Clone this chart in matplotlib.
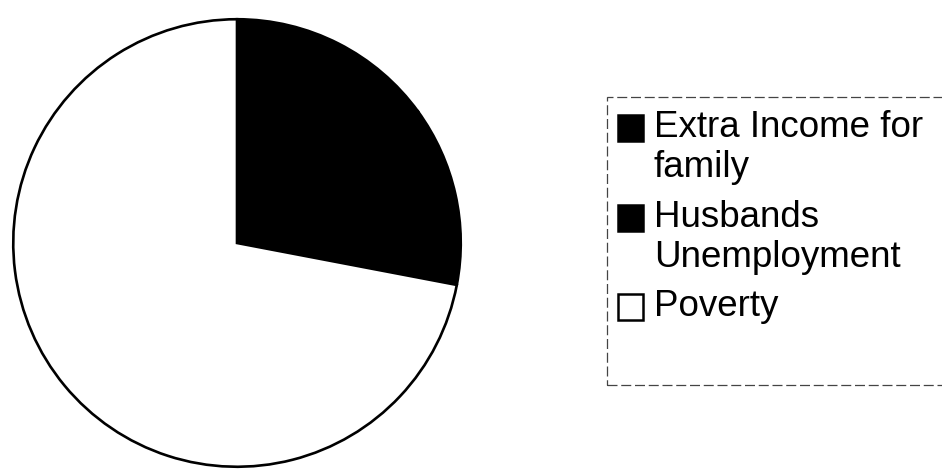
import matplotlib
matplotlib.use('Agg')
import matplotlib.pyplot as plt
from matplotlib.patches import Rectangle

plt.rcParams['font.family'] = ['Liberation Sans', 'DejaVu Sans']

# data
labels = ['Extra Income for\nfamily', 'Husbands\nUnemployment', 'Poverty']
values = [15, 13, 72]
colors = ['black', 'black', 'white']

W, H = 942, 472
fig = plt.figure(figsize=(W / 100, H / 100), dpi=100)
fig.patch.set_facecolor('white')

def fx(x):
    return x / W

def fy(y):
    return 1 - y / H

# pie area in pixels: centre (237, 243), radius 226
cx, cy, r = 237, 243, 226
ax = fig.add_axes([fx(cx - r), fy(cy + r), 2 * r / W, 2 * r / H])
wedges, _ = ax.pie(values, colors=colors, startangle=90, counterclock=False,
                   wedgeprops=dict(edgecolor='black', linewidth=1.9))
ax.set_xlim(-1.01, 1.01)
ax.set_ylim(-1.01, 1.01)
ax.set_aspect('equal')
ax.axis('off')

# legend box (dashed, running past the right edge)
frame = Rectangle((fx(607), fy(385)), fx(980) - fx(607), fy(97) - fy(385),
                  transform=fig.transFigure, fill=False, edgecolor='#444444',
                  linewidth=0.9, linestyle=(0, (8, 3)))
fig.add_artist(frame)

entry_tops = [115, 205, 294]
for lab, col, top in zip(labels, colors, entry_tops):
    sq = Rectangle((fx(618), fy(top + 26)), 25 / W, 26 / H,
                   transform=fig.transFigure, facecolor=col,
                   edgecolor='black', linewidth=1.8)
    fig.add_artist(sq)
    fig.text(fx(654), fy(top - 5), lab, fontsize=26.5, va='top', ha='left',
             linespacing=1.18, color='black')

fig.savefig('out.png', dpi=100)
